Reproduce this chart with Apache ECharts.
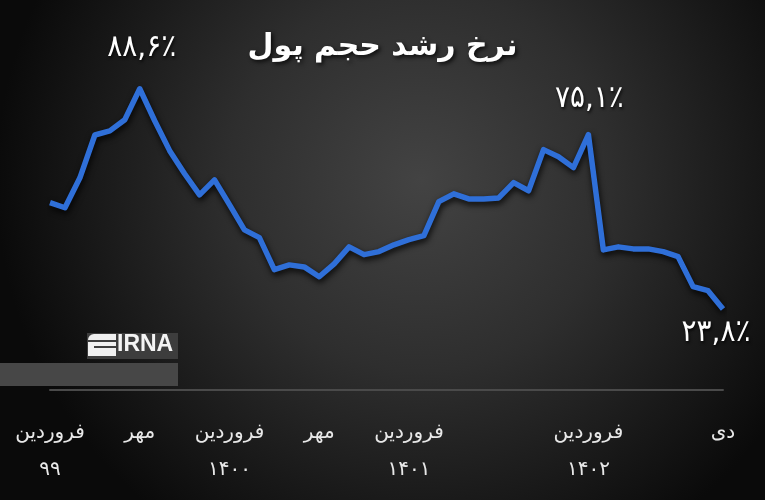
<!DOCTYPE html>
<html>
<head>
<meta charset="utf-8">
<script src="https://cdn.jsdelivr.net/npm/echarts@6/dist/echarts.min.js"></script>
<style>html,body{margin:0;padding:0;background:#1a1a1a;}#c{width:765px;height:500px;}</style>
</head>
<body>
<div id="c"></div>
<script>
const titleText = 'نرخ رشد حجم پول';
const monthNames = ['فروردین','اردیبهشت','خرداد','تیر','مرداد','شهریور','مهر','آبان','آذر','دی','بهمن','اسفند'];
const yearNames = ['۹۹','۱۴۰۰','۱۴۰۱','۱۴۰۲'];
const growthRate = [55.1, 53.6, 62.4, 75.0, 76.2, 79.5, 88.6, 79.2, 70.4, 63.6,
  57.4, 61.8, 54.5, 47.1, 44.8, 35.4, 36.8, 36.2, 33.3, 37.1,
  42.1, 39.8, 40.7, 42.7, 44.2, 45.4, 55.4, 57.7, 56.2, 56.2,
  56.5, 61.0, 58.6, 70.7, 68.6, 65.4, 75.1, 41.2, 42.1, 41.5,
  41.5, 40.7, 39.2, 30.4, 29.2, 23.8];
const tickIndices = [0, 6, 12, 18, 24, 36, 45];
const tickLabels = ['فروردین\n۹۹', 'مهر', 'فروردین\n۱۴۰۰', 'مهر', 'فروردین\n۱۴۰۱', 'فروردین\n۱۴۰۲', 'دی'];
const annotatedIndices = [6, 36, 45];

const categories = [];
for (let i = 0; i < growthRate.length; i++) {
  categories.push(monthNames[i % 12] + ' ' + yearNames[Math.floor(i / 12)]);
}
const faDigits = '۰۱۲۳۴۵۶۷۸۹';
function toFa(v) {
  return v.toFixed(1).replace('.', ',').replace(/[0-9]/g, d => faDigits[+d]) + '٪';
}
const labelStyles = {
  6: {position: 'top', distance: 25, offset: [2, 0]},
  36: {position: 'top', distance: 20, offset: [1, 0]},
  45: {position: 'bottom', distance: 8, offset: [-7, 0]}
};
const seriesData = growthRate.map((v, i) => {
  if (annotatedIndices.indexOf(i) >= 0) {
    return {value: v, label: Object.assign({show: true}, labelStyles[i])};
  }
  return v;
});

const chart = echarts.init(document.getElementById('c'), null, {renderer: 'canvas'});
chart.setOption({
  backgroundColor: {
    type: 'radial', x: 0.55, y: 0.36, r: 0.85,
    colorStops: [
      {offset: 0, color: '#434343'},
      {offset: 0.45, color: '#2e2e2e'},
      {offset: 1, color: '#0a0a0a'}
    ]
  },
  animation: false,
  title: {
    text: titleText, left: 'center', top: 27,
    textStyle: {
      color: '#ffffff', fontSize: 30, fontWeight: 'bold', fontFamily: 'DejaVu Sans',
      textShadowColor: 'rgba(0,0,0,0.8)', textShadowBlur: 4, textShadowOffsetX: 2, textShadowOffsetY: 2
    }
  },
  grid: {left: 50, right: 42, top: 50, bottom: 110},
  xAxis: {
    type: 'category', data: categories, boundaryGap: false,
    axisLine: {lineStyle: {color: '#4a4a4a', width: 2}},
    axisTick: {show: false},
    splitLine: {show: false},
    axisLabel: {
      interval: (idx) => tickIndices.indexOf(idx) >= 0,
      formatter: (val, idx) => {
        const k = tickIndices.indexOf(idx);
        return k >= 0 ? tickLabels[k] : '';
      },
      color: '#e8e8e8', fontSize: 20, fontFamily: 'DejaVu Sans',
      lineHeight: 37, margin: 24, hideOverlap: false
    }
  },
  yAxis: {type: 'value', min: 0, max: 100, show: false, splitLine: {show: false}},
  series: [{
    type: 'line', data: seriesData, symbol: 'circle', symbolSize: 1, showSymbol: true, smooth: false,
    itemStyle: {color: 'rgba(0,0,0,0)'},
    lineStyle: {color: '#2f6fd8', width: 5.5, shadowColor: 'rgba(0,0,0,0.9)', shadowBlur: 6, shadowOffsetX: 1, shadowOffsetY: 3, join: 'round'},
    label: {
      show: false,
      formatter: (p) => toFa(p.value),
      color: '#ffffff', fontSize: 31, fontFamily: 'DejaVu Sans Condensed',
      textShadowColor: 'rgba(0,0,0,0.8)', textShadowBlur: 3, textShadowOffsetX: 1, textShadowOffsetY: 2
    }
  }],
  graphic: [
    {type: 'rect', shape: {x: 87, y: 333, width: 91, height: 26}, style: {fill: '#3d3d3d'}},
    {type: 'rect', shape: {x: 0, y: 363, width: 178, height: 23}, style: {fill: '#474747'}},
    {type: 'rect', shape: {x: 88, y: 334, width: 28, height: 22, r: [6, 0, 0, 0]}, style: {fill: '#f0f0f0'}},
    {type: 'rect', shape: {x: 88, y: 340, width: 28, height: 2}, style: {fill: '#3d3d3d'}},
    {type: 'rect', shape: {x: 94, y: 346, width: 22, height: 2}, style: {fill: '#3d3d3d'}},
    {type: 'text', left: 117, top: 333, style: {text: 'IRNA', fill: '#f4f4f4', font: 'bold 23px "Liberation Sans Narrow", "Liberation Sans", sans-serif'}}
  ]
});
</script>
</body>
</html>
